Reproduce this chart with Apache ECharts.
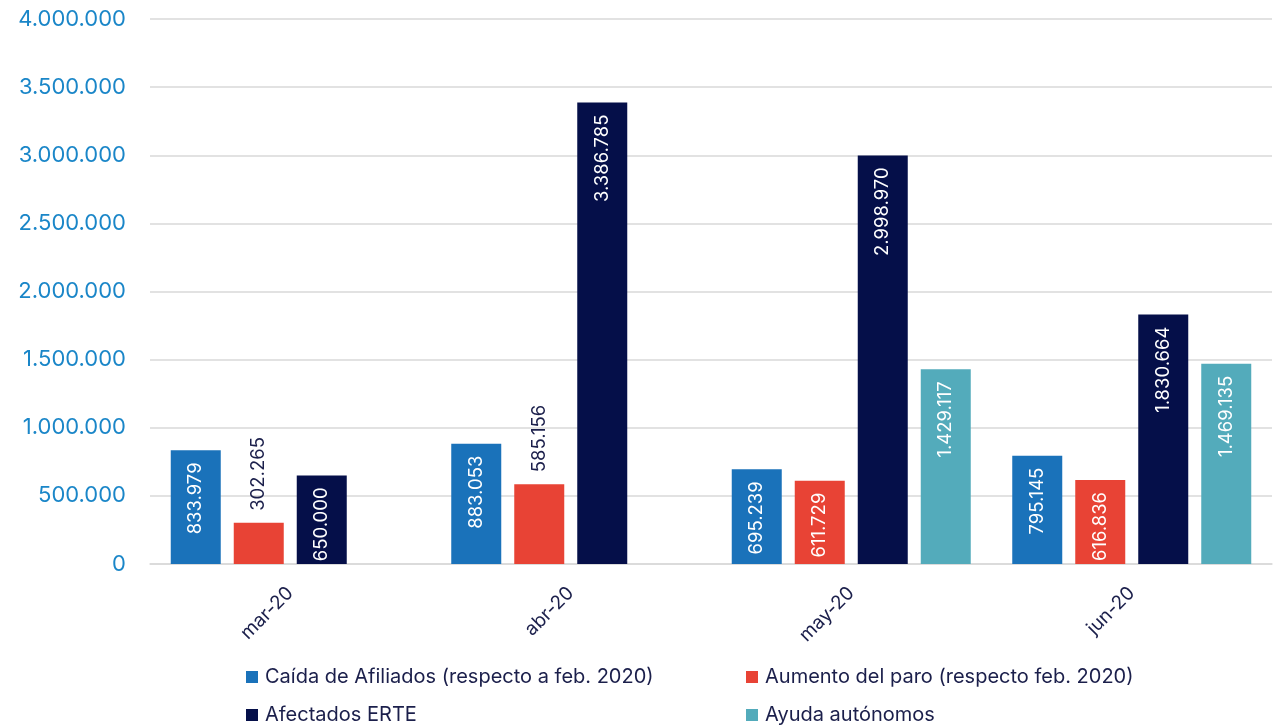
<!DOCTYPE html>
<html>
<head>
<meta charset="utf-8">
<script src="https://cdn.jsdelivr.net/npm/echarts@6/dist/echarts.min.js"></script>
<style>html,body{margin:0;padding:0;background:#fff}#c{width:1275px;height:727px}</style>
</head>
<body>
<div id="c"></div>
<script>
const categories = ['mar-20', 'abr-20', 'may-20', 'jun-20'];
const seriesNames = ['Caída de Afiliados (respecto a feb. 2020)', 'Aumento del paro (respecto feb. 2020)', 'Afectados ERTE', 'Ayuda autónomos'];
const caidaAfiliados = [833979, 883053, 695239, 795145];
const aumentoParo = [302265, 585156, 611729, 616836];
const afectadosERTE = [650000, 3386785, 2998970, 1830664];
const ayudaAutonomos = [null, null, 1429117, 1469135];
const yTicks = [0, 500000, 1000000, 1500000, 2000000, 2500000, 3000000, 3500000, 4000000];

const colors = ['#1a72ba', '#e84335', '#050f49', '#53abbb'];
const navy = '#1b1f4b';
const FONT = 'Inter, Liberation Sans, Arial, sans-serif';

function fmt(v) {
  return String(Math.round(v)).replace(/\B(?=(\d{3})+(?!\d))/g, '.');
}

const insideLabel = {
  show: true, position: 'insideTop', rotate: 90, align: 'right', verticalAlign: 'middle',
  distance: 12, color: '#ffffff', fontSize: 18.5, fontFamily: FONT,
  formatter: p => fmt(p.value)
};
const outsideLabel = Object.assign({}, insideLabel, {
  position: 'top', align: 'left', color: navy, distance: 12
});

function buildData(values, allowOutside) {
  return values.map(v => {
    if (v === null) return '-';
    if (allowOutside && v < 600000) return { value: v, label: outsideLabel };
    return v;
  });
}

const allValues = [caidaAfiliados, aumentoParo, afectadosERTE, ayudaAutonomos];
const series = allValues.map((vals, i) => ({
  name: seriesNames[i],
  type: 'bar',
  barWidth: 50,
  barGap: '26%',
  itemStyle: { color: colors[i] },
  label: insideLabel,
  data: buildData(vals, i === 1),
  animation: false
}));

const legendPos = [[246, 667], [746, 667], [246, 705], [746, 705]];
const legends = seriesNames.map((n, i) => ({
  data: [n],
  left: legendPos[i][0],
  top: legendPos[i][1],
  padding: 0,
  icon: 'rect',
  itemWidth: 12,
  itemHeight: 12,
  itemGap: 0,
  textStyle: { color: navy, fontSize: 20, fontFamily: FONT, padding: [0, 0, 0, 2] },
  selectedMode: false
}));

const chart = echarts.init(document.getElementById('c'), null, { renderer: 'canvas' });
chart.setOption({
  animation: false,
  grid: { left: 150, right: 3, top: 19, bottom: 163, containLabel: false },
  legend: legends,
  xAxis: {
    type: 'category',
    data: categories,
    axisTick: { show: false },
    axisLine: { show: true, lineStyle: { color: '#d9d9d9', width: 1.5 } },
    axisLabel: { rotate: 45, color: navy, fontSize: 19, fontFamily: FONT, margin: 26 }
  },
  yAxis: {
    type: 'value',
    min: yTicks[0],
    max: yTicks[yTicks.length - 1],
    interval: yTicks[1] - yTicks[0],
    axisLine: { show: false },
    axisTick: { show: false },
    splitLine: { lineStyle: { color: '#d9d9d9', width: 1.5 } },
    axisLabel: { color: '#1a86c8', fontSize: 22, fontFamily: FONT, margin: 24, formatter: v => fmt(v) }
  },
  series: series
});
</script>
</body>
</html>
